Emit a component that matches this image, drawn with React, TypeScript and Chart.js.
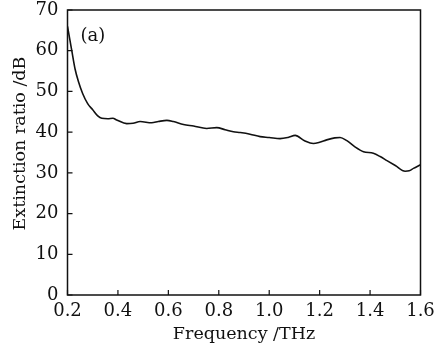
import React, { useEffect, useRef } from "react";
import { Chart, registerables } from "chart.js";

Chart.register(...registerables);

const frequency = [
  0.2, 0.21, 0.217, 0.23, 0.243, 0.26, 0.28, 0.3, 0.32, 0.336, 0.36, 0.38, 0.395,
  0.435, 0.46, 0.488, 0.534, 0.56, 0.594, 0.62, 0.66, 0.7, 0.752, 0.792, 0.825,
  0.858, 0.885, 0.924, 0.964, 1.0, 1.043, 1.075, 1.103, 1.14, 1.175, 1.2, 1.228,
  1.26, 1.281, 1.308, 1.34, 1.374, 1.413, 1.44, 1.467, 1.5, 1.539, 1.555, 1.572, 1.6,
];
const extinction = [
  66, 62.5, 60, 55.5, 52.5, 49.5, 47, 45.5, 44, 43.4, 43.3, 43.4, 43.0,
  42.1, 42.2, 42.6, 42.3, 42.6, 42.9, 42.6, 41.9, 41.5, 40.9, 41.1, 40.6,
  40.1, 39.9, 39.5, 38.9, 38.7, 38.4, 38.7, 39.2, 37.9, 37.2, 37.5, 38.1,
  38.6, 38.7, 37.9, 36.4, 35.2, 34.8, 34.0, 33.0, 31.8, 30.4, 30.5, 31.1, 32,
];
const xTitle = "Frequency /THz";
const yTitle = "Extinction ratio /dB";
const panelLabel = "(a)";

const FONT = "'DejaVu Serif', serif";
const INK = "#111";

const framePlugin = {
  id: "frame",
  afterDraw(chart: any) {
    const { ctx, chartArea, scales } = chart;
    const { left, right, top, bottom } = chartArea;
    ctx.save();
    ctx.strokeStyle = INK;
    ctx.lineWidth = 1.5;
    ctx.strokeRect(left, top, right - left, bottom - top);
    ctx.lineWidth = 1.2;
    ctx.beginPath();
    scales.x.ticks.forEach((t: any) => {
      const px = scales.x.getPixelForValue(t.value);
      ctx.moveTo(px, bottom);
      ctx.lineTo(px, bottom - 5);
    });
    scales.y.ticks.forEach((t: any) => {
      const py = scales.y.getPixelForValue(t.value);
      ctx.moveTo(left, py);
      ctx.lineTo(left + 5, py);
    });
    ctx.stroke();
    ctx.fillStyle = INK;
    ctx.font = `18px ${FONT}`;
    ctx.textAlign = "left";
    ctx.textBaseline = "middle";
    ctx.fillText(panelLabel, left + 13, top + 26);
    // y-axis title
    ctx.font = `17.5px ${FONT}`;
    ctx.textAlign = "center";
    ctx.translate(20, (top + bottom) / 2 - 9);
    ctx.rotate(-Math.PI / 2);
    ctx.fillText(yTitle, 0, 0);
    ctx.restore();
  },
};

export default function App() {
  const ref = useRef<HTMLCanvasElement>(null);
  useEffect(() => {
    if (!ref.current) return;
    const chart = new Chart(ref.current, {
      type: "line",
      data: {
        datasets: [
          {
            data: frequency.map((f, i) => ({ x: f, y: extinction[i] })),
            borderColor: INK,
            borderWidth: 1.6,
            pointRadius: 0,
            tension: 0.4,
            cubicInterpolationMode: "monotone",
            fill: false,
          },
        ],
      },
      options: {
        responsive: false,
        animation: false,
        layout: { padding: { top: 10, right: 13.5, left: 0, bottom: 0 } },
        plugins: { legend: { display: false }, tooltip: { enabled: false } },
        scales: {
          x: {
            type: "linear",
            min: 0.2,
            max: 1.6,
            ticks: {
              stepSize: 0.2,
              color: INK,
              font: { family: FONT, size: 18 },
              padding: 6,
              maxRotation: 0,
              callback: (v: any) => Number(v).toFixed(1),
            },
            grid: { display: false, drawTicks: false },
            border: { display: false },
            title: {
              display: true,
              text: xTitle,
              color: INK,
              font: { family: FONT, size: 17.5 },
              padding: { top: 0, bottom: 6 },
            },
            afterFit: (s: any) => {
              s.height = 56;
              s.paddingLeft = 0;
              s.paddingRight = 0;
            },
          },
          y: {
            min: 0,
            max: 70,
            ticks: {
              stepSize: 10,
              color: INK,
              font: { family: FONT, size: 18 },
              padding: 9,
            },
            grid: { display: false, drawTicks: false },
            border: { display: false },
            title: { display: false },
            afterFit: (s: any) => {
              s.width = 67.5;
              s.paddingTop = 0;
              s.paddingBottom = 0;
            },
          },
        },
      },
      plugins: [framePlugin],
    } as any);
    return () => chart.destroy();
  }, []);
  return (
    <div style={{ position: "absolute", left: 0, top: 0, width: 434, height: 351, background: "#fff" }}>
      <canvas ref={ref} width={434} height={351} style={{ display: "block" }} />
    </div>
  );
}
